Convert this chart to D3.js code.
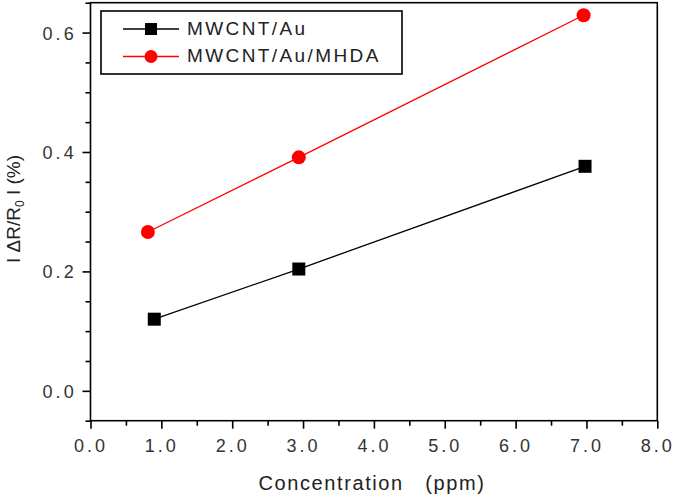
<!DOCTYPE html>
<html><head><meta charset="utf-8">
<script src="https://cdn.jsdelivr.net/npm/d3@7"></script>
<style>
body{margin:0;background:#fff;}
text{font-family:Arial,"Liberation Sans",sans-serif;}
</style></head>
<body><svg id="c" width="675" height="500"></svg>
<script>
const seriesNames = ["MWCNT/Au", "MWCNT/Au/MHDA"];
const seriesColors = ["#000000", "#ff0000"];
const seriesSymbols = ["square", "circle"];
const auX = [0.9, 2.94, 6.98];
const auY = [0.120, 0.204, 0.376];
const mhdaX = [0.81, 2.94, 6.96];
const mhdaY = [0.266, 0.391, 0.629];
const xTicks = [0, 1, 2, 3, 4, 5, 6, 7, 8];
const yTicks = [0, 0.2, 0.4, 0.6];
const xLabel = "Concentration   (ppm)";

const svg = d3.select("#c");
const L = 90.5, R = 657.3, T = 2.7, B = 420.7;
const x = d3.scaleLinear().domain([0, 8]).range([L, R]);
const y = d3.scaleLinear().domain([-0.05, 0.65]).range([B, T]);

const series = [
  {name: seriesNames[0], color: seriesColors[0], sym: seriesSymbols[0], pts: auX.map((v,i)=>[v, auY[i]])},
  {name: seriesNames[1], color: seriesColors[1], sym: seriesSymbols[1], pts: mhdaX.map((v,i)=>[v, mhdaY[i]])}
];

// frame
svg.append("rect").attr("x", L).attr("y", T).attr("width", R-L).attr("height", B-T)
  .attr("fill", "none").attr("stroke", "#000").attr("stroke-width", 1.6);

// y axis
const yMinor = d3.range(-0.05, 0.651, 0.05).map(v=>+v.toFixed(2)).filter(v=>!yTicks.includes(v));
const yAx = svg.append("g").attr("transform", `translate(${L},0)`);
yAx.call(d3.axisLeft(y).tickValues(yTicks).tickSize(8).tickFormat(d3.format(".1f")));
yAx.append("g").call(d3.axisLeft(y).tickValues(yMinor).tickSize(5).tickFormat(""));
yAx.selectAll(".domain").remove();
yAx.selectAll("line").attr("stroke", "#000").attr("stroke-width", 1.6);
yAx.selectAll("text").attr("font-size", 18).attr("fill", "#333").attr("letter-spacing", "3.2px")
  .attr("x", -13.5).attr("dy", 0).attr("y", 6.5).attr("font-family", "Arial, 'Liberation Sans', sans-serif");

// x axis
const xMinor = d3.range(0.5, 8, 1);
const xAx = svg.append("g").attr("transform", `translate(0,${B})`);
xAx.call(d3.axisBottom(x).tickValues(xTicks).tickSize(8).tickFormat(d3.format(".1f")));
xAx.append("g").call(d3.axisBottom(x).tickValues(xMinor).tickSize(5).tickFormat(""));
xAx.selectAll(".domain").remove();
xAx.selectAll("line").attr("stroke", "#000").attr("stroke-width", 1.6);
xAx.selectAll("text").attr("font-size", 18).attr("fill", "#333").attr("letter-spacing", "3px")
  .attr("dy", 0).attr("y", 31.8).attr("font-family", "Arial, 'Liberation Sans', sans-serif");

// axis labels
svg.append("text").attr("x", 372).attr("y", 490).attr("text-anchor", "middle")
  .attr("font-size", 20).attr("fill", "#222").attr("letter-spacing", "1.6px")
  .style("white-space", "pre").text(xLabel);

const yl = svg.append("text").attr("transform", "translate(20,209) rotate(-90)")
  .attr("text-anchor", "middle").attr("font-size", 19).attr("fill", "#222").style("white-space", "pre");
yl.append("tspan").text("I \u0394R/R");
yl.append("tspan").attr("font-size", 12).attr("dy", 4).text("0");
yl.append("tspan").attr("dy", -4).text(" I (%)");

// lines and markers
const line = d3.line().x(d=>x(d[0])).y(d=>y(d[1]));
function marker(g, sym, color, cx, cy, size) {
  if (sym === "square") {
    g.append("rect").attr("x", cx-size/2).attr("y", cy-size/2).attr("width", size).attr("height", size).attr("fill", color);
  } else {
    g.append("circle").attr("cx", cx).attr("cy", cy).attr("r", size/2 + 0.5).attr("fill", color);
  }
}
series.forEach(s => {
  svg.append("path").datum(s.pts).attr("d", line).attr("fill", "none")
    .attr("stroke", s.color).attr("stroke-width", 1.3);
  const g = svg.append("g");
  s.pts.forEach(p => marker(g, s.sym, s.color, x(p[0]), y(p[1]), 13));
});

// legend
svg.append("rect").attr("x", 101).attr("y", 11).attr("width", 301).attr("height", 63)
  .attr("fill", "#fff").attr("stroke", "#000").attr("stroke-width", 1.6);
series.forEach((s, i) => {
  const ly = 29 + i*27.5;
  svg.append("line").attr("x1", 123).attr("x2", 179).attr("y1", ly).attr("y2", ly)
    .attr("stroke", s.color).attr("stroke-width", 1.5);
  const g = svg.append("g");
  marker(g, s.sym, s.color, 151, ly, 12);
  svg.append("text").attr("x", 187).attr("y", ly+5.7).attr("font-size", 19).attr("fill", "#222")
    .attr("letter-spacing", "2.4px").text(s.name);
});
</script></body></html>
